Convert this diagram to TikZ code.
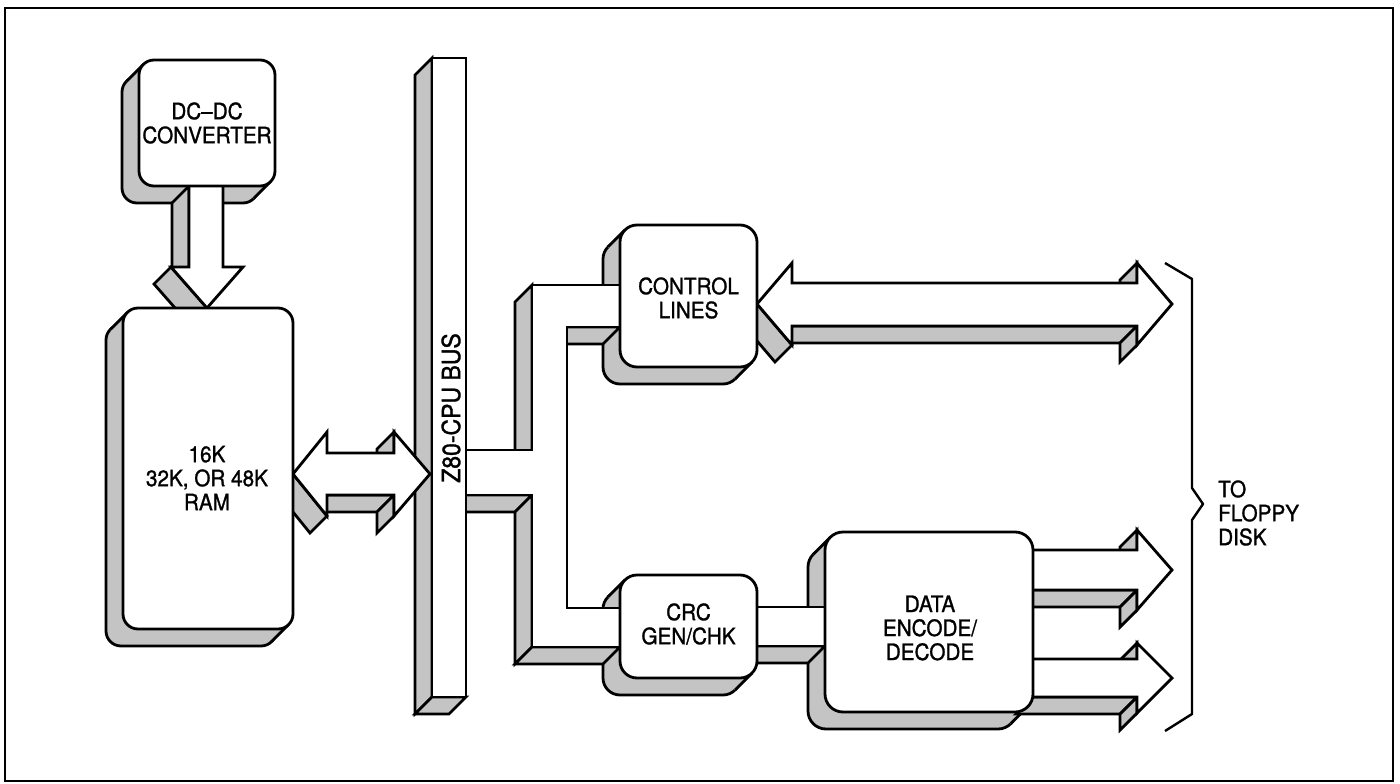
\documentclass[tikz,border=0pt]{standalone}
\usepackage{fontspec}
\setmainfont{TeX Gyre Heros}[FakeStretch=0.92,FakeBold=1.2]
\newcommand\lbl{\fontsize{22.5}{24}\selectfont}
\newcommand\buslbl{\fontsize{25}{27}\selectfont}
\newcommand\boxshadow[5]{%
  \pgfmathsetmacro\kk{#5*(1-0.7071)}%
  \fill[sh,draw=black,ln,rounded corners=#5pt] (#1-17,#2+17) rectangle (#3-17,#4+17);
  \fill[sh] (#1+\kk,#2+\kk) -- (#1+\kk-17,#2+\kk+17) -- (#3-\kk-17,#4-\kk+17) -- (#3-\kk,#4-\kk) -- cycle;
  \draw[ln] (#1+\kk,#2+\kk) -- ++(-17,17);
  \draw[ln] (#3-\kk,#4-\kk) -- ++(-17,17);
}
\newcommand\face[4]{\draw[facestyle] (#1,#2) -- (#3,#4) -- (#3-17,#4+17) -- (#1-17,#2+17) -- cycle;}
\begin{document}
\begin{tikzpicture}[x=1pt,y=-1pt,
  ln/.style={line width=2.8pt},
  sh/.style={fill=black!23},
  facestyle/.style={draw,ln,sh},
  front/.style={draw,ln,fill=white},
  box/.style={front,rounded corners=#1pt,inner sep=0pt},
  txt/.style={font=\lbl,align=center,inner sep=0pt}]
\useasboundingbox (0,0) rectangle (1400,784);
\fill[white] (0,0) rectangle (1400,784);
\draw[line width=2.8pt] (5,8) rectangle (1393,781);

% ---- box shadows
\boxshadow{139}{60}{275}{186}{15}
\boxshadow{123}{308}{293}{629}{15}
\boxshadow{620}{225}{757}{367}{17}
\boxshadow{620}{575}{757}{678}{17}
\boxshadow{825}{532}{1033}{712}{18}

% ---- side faces
% bus
\face{432}{697}{432}{58}
\face{466}{697}{432}{697}
% DC-DC -> RAM arrow
\face{189}{267}{189}{186}
\face{207}{308}{171}{267}
% RAM <-> bus arrow
\face{394}{495}{327}{495}
\face{327}{516}{293}{474}
\face{394}{516}{394}{495}
\face{394}{453}{394}{432}
% bus -> control / crc pipe
\face{532}{450}{532}{285}
\face{620}{327}{567}{327}
\face{532}{495}{466}{495}
\face{532}{647}{532}{495}
\face{620}{647}{532}{647}
% crc -> data bar
\face{825}{646}{757}{646}
% control lines arrow
\face{1137}{326}{792}{326}
\face{792}{345}{757}{304}
\face{1137}{345}{1137}{326}
\face{1137}{283}{1137}{263}
% data arrows
\face{1137}{590}{1033}{590}
\face{1137}{610}{1137}{590}
\face{1137}{550}{1137}{530}
\face{1137}{697}{1033}{697}
\face{1137}{713}{1137}{697}
\face{1137}{659}{1137}{643}

% ---- polygon fronts
\draw[front] (189,180) -- (223,180) -- (223,267) -- (243,267) -- (207,308) -- (171,267) -- (189,267) -- cycle;
\draw[front] (293,474) -- (327,432) -- (327,453) -- (394,453) -- (394,432) -- (430,474) -- (394,516) -- (394,495) -- (327,495) -- (327,516) -- cycle;
\draw[front] (532,285) -- (625,285) -- (625,327) -- (567,327) -- (567,608) -- (625,608) -- (625,647) -- (532,647) -- (532,495) -- (460,495) -- (460,450) -- (532,450) -- cycle;
\draw[front] (750,607) rectangle (830,646);
\draw[front] (757,304) -- (792,263) -- (792,283) -- (1137,283) -- (1137,263) -- (1172,304) -- (1137,345) -- (1137,326) -- (792,326) -- (792,345) -- cycle;
\draw[front] (1025,550) -- (1137,550) -- (1137,530) -- (1172,570) -- (1137,610) -- (1137,590) -- (1025,590) -- cycle;
\draw[front] (1025,659) -- (1137,659) -- (1137,643) -- (1172,678) -- (1137,713) -- (1137,697) -- (1025,697) -- cycle;

% bus front
\node[front,minimum width=34pt,minimum height=639pt,inner sep=0pt] (bus) at (449,377.5) {};
\node[rotate=90,font=\buslbl,inner sep=0pt] (buslbl) at (451,408) {Z80-CPU BUS};

% ---- box fronts
\node[box=15,minimum width=136pt,minimum height=126pt] (dcdc) at (207,123) {};
\node[txt] (dcdc-t) at (dcdc) {DC--DC\\CONVERTER};
\node[box=15,minimum width=170pt,minimum height=321pt] (ram) at (208,468.5) {};
\node[txt] (ram-t) at (207,478) {16K\\32K, OR 48K\\RAM};
\node[box=17,minimum width=137pt,minimum height=142pt] (ctrl) at (688.5,296) {};
\node[txt] (ctrl-t) at (688.5,298) {CONTROL\\LINES};
\node[box=17,minimum width=137pt,minimum height=103pt] (crc) at (688.5,626.5) {};
\node[txt] (crc-t) at (688.5,624) {CRC\\GEN/CHK};
\node[box=18,minimum width=208pt,minimum height=180pt] (data) at (929,622) {};
\node[txt] (data-t) at (930,628) {DATA\\ENCODE/\\DECODE};

% ---- brace and label
\draw[ln,line width=2.4pt,line join=round] (1165,263) -- (1192,279) -- (1192,488) -- (1203,504) -- (1192,520) -- (1192,714) -- (1165,731);
\node[txt,align=left,anchor=west] (floppy) at (1218,513) {TO\\FLOPPY\\DISK};
\end{tikzpicture}
\end{document}
